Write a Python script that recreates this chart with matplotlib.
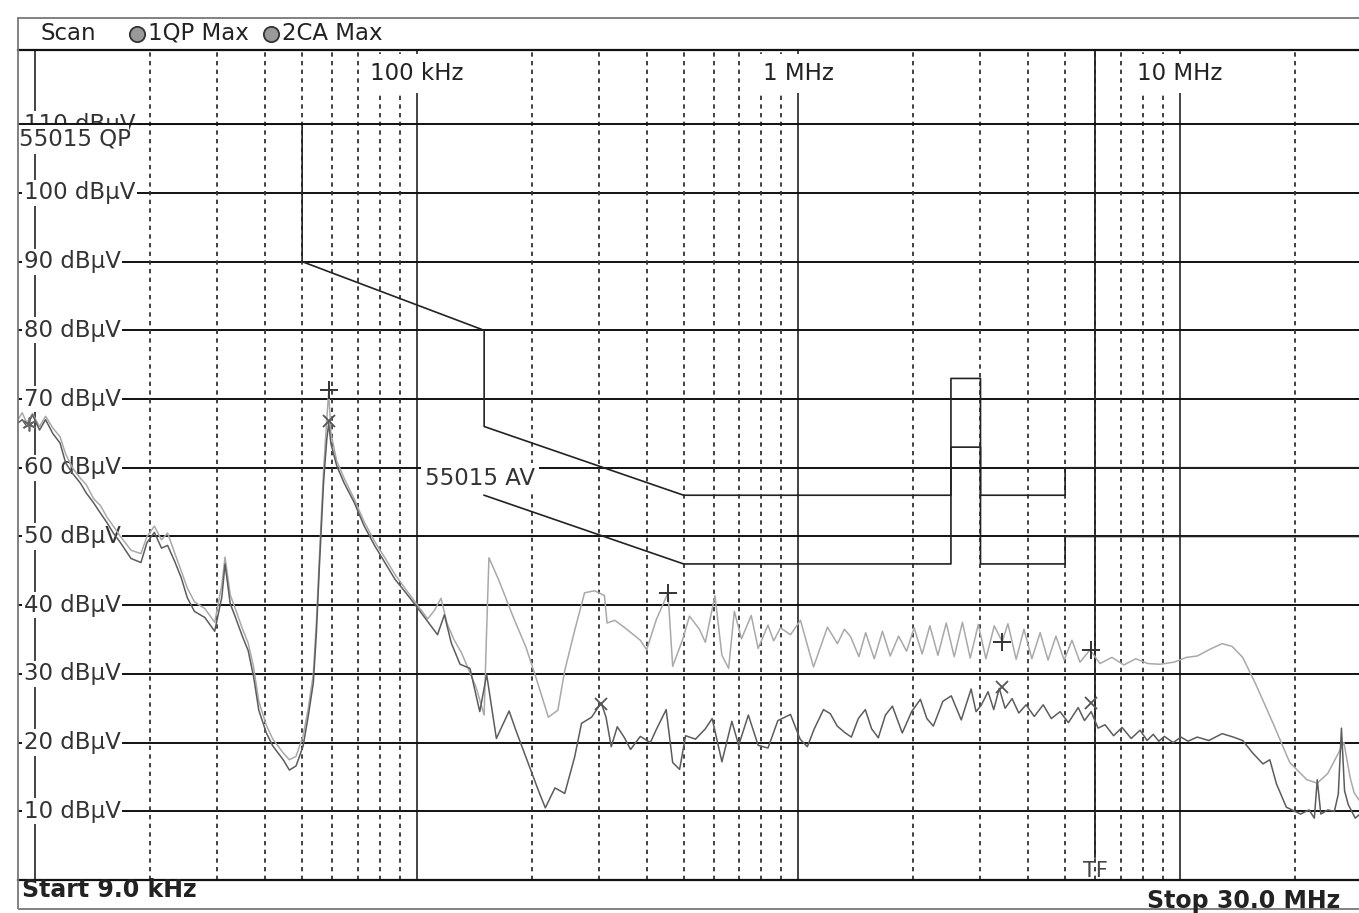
import numpy as np
import matplotlib.pyplot as plt
import matplotlib.transforms as mtransforms
from matplotlib.lines import Line2D
from matplotlib.patches import Rectangle
from matplotlib.ticker import NullLocator

# ---- trace 1: QP max (light) -- frequency in kHz, level in dBuV
qp_freq = [9.0, 9.23, 9.5, 9.82, 10.25, 10.63, 11.1, 11.6, 12.0, 12.5, 13.1, 13.6, 14.2, 14.8,
           15.4, 16.0, 16.7, 17.8, 18.9, 19.6, 20.5, 21.4, 22.2, 23.2, 24.1, 25.0, 26.1, 27.8,
           29.5, 30.8, 31.4, 32.4, 33.4, 34.9, 36.1, 37.3, 38.5, 40.3, 41.9, 44.6, 46.3, 48.2,
           50.3, 51.9, 53.5, 54.5, 55.5, 56.9, 58.0, 58.7, 59.5, 61.6, 64.4, 68.4, 72.6, 77.4,
           82.2, 87.5, 92.9, 98.8, 106.7, 111, 115.6, 120, 125, 131, 143, 150, 152, 154.4,
           164, 179, 193, 205, 221, 234, 244, 259, 275, 292, 310, 315, 330, 349, 385, 400,
           424, 455, 468, 497, 518, 550, 570, 604, 630, 656, 679, 709, 752, 784, 832, 861,
           897, 953, 1012, 1095, 1191, 1265, 1320, 1370, 1440, 1500, 1580, 1660, 1740, 1830,
           1920, 2010, 2110, 2210, 2320, 2440, 2560, 2690, 2820, 2960, 3100, 3260, 3420, 3540,
           3720, 3900, 4090, 4300, 4510, 4730, 4970, 5210, 5470, 5810, 6170, 6630, 7130, 7660,
           8240, 8860, 9640, 10400, 11100, 12000, 12900, 13700, 14600, 15800, 17600, 19400,
           21500, 22900, 24400, 26900, 27900, 28600, 30000]
qp_level = [67.0, 68.0, 66.5, 67.9, 66.0, 67.5, 65.8, 64.5, 62.0, 60.0, 58.5, 57.5, 55.5, 54.5,
            52.8, 51.5, 50.0, 48.0, 47.5, 50.0, 51.5, 49.5, 50.5, 47.5, 45.0, 42.5, 40.5, 39.5,
            37.5, 43.0, 47.0, 41.5, 39.5, 36.5, 34.5, 31.0, 26.0, 22.5, 20.5, 18.5, 17.5, 18.0,
            21.0, 25.0, 30.0, 37.5, 47.0, 59.5, 67.0, 71.0, 65.0, 61.0, 58.5, 55.5, 52.2, 49.3,
            47.0, 44.5, 42.5, 40.5, 38.0, 39.2, 41.0, 37.3, 35.0, 33.0, 28.0, 24.0, 35.0, 46.9,
            43.6, 38.2, 33.9, 29.5, 23.7, 24.7, 30.5, 36.3, 41.8, 42.1, 41.4, 37.4, 37.8, 36.8, 34.9, 33.5,
            37.9, 41.8, 31.1, 35.0, 38.4, 36.5, 34.6, 41.4, 32.7, 30.8, 39.1, 35.1, 38.5, 33.7, 37.1, 34.8,
            36.7, 35.7, 37.8, 31.0, 36.8, 34.4, 36.5, 35.4, 32.5, 36.0, 32.2, 36.2, 32.6, 35.5,
            33.3, 36.7, 32.9, 37.0, 32.7, 37.4, 32.5, 37.5, 32.3, 37.2, 32.2, 37.0, 34.7, 37.3,
            32.1, 36.5, 32.2, 36.0, 32.0, 35.5, 32.0, 34.9, 31.7, 33.5, 31.5, 32.4, 31.3, 32.2,
            31.5, 31.4, 31.7, 32.4, 32.6, 33.6, 34.4, 34.0, 32.4, 28.5, 22.6, 17.1,
            14.6, 14.1, 15.5, 20.0, 15.0, 12.7, 11.0]

# ---- trace 2: CISPR average max (dark)
ca_freq = [9.0, 9.23, 9.5, 9.82, 10.25, 10.63, 11.1, 11.6, 12.0, 12.5, 13.1, 13.6, 14.2, 14.8,
           15.4, 16.0, 16.7, 17.8, 18.9, 19.6, 20.5, 21.4, 22.2, 23.2, 24.1, 25.0, 26.1, 27.8,
           29.5, 30.8, 31.4, 32.4, 33.4, 34.9, 36.1, 37.3, 38.5, 40.3, 41.9, 44.6, 46.3, 48.2,
           50.3, 51.9, 53.5, 54.5, 55.5, 56.9, 58.0, 58.7, 59.5, 61.6, 64.4, 68.4, 72.6, 77.4,
           82.2, 87.5, 92.9, 98.8, 106.7, 113.2, 118, 123, 129.7, 137.7, 146.1, 152.3, 161.5,
           174.4, 181.9, 193.2, 208.2, 217, 230, 244, 259, 270, 287, 304, 313, 323, 335, 349,
           363, 385, 409, 424, 450, 468, 488, 506, 537, 570, 594, 630, 669, 697, 739, 784, 832,
           883, 953, 1010, 1055, 1100, 1163, 1212, 1264, 1320, 1376, 1435, 1497, 1555, 1619,
           1690, 1763, 1871, 1980, 2087, 2170, 2257, 2390, 2515, 2671, 2835, 2920, 3010, 3140,
           3250, 3360, 3480, 3630, 3780, 3950, 4150, 4380, 4600, 4850, 5100, 5410, 5620, 5850,
           6100, 6360, 6700, 7050, 7450, 7860, 8200, 8510, 8800, 9100, 9600, 10060, 10500,
           11100, 11900, 12900, 13800, 14600, 15500, 16500, 17200, 17900, 19000, 20700, 21800,
           22500, 22900, 23400, 24400, 25400, 26000, 26500, 27000, 27600, 28800, 29500, 30000]
ca_level = [66.5, 67.0, 66.0, 67.7, 65.5, 67.0, 65.0, 63.6, 60.7, 59.2, 57.8, 56.3, 54.9, 53.4,
            52.0, 50.5, 49.1, 46.8, 46.2, 49.1, 50.6, 48.3, 48.7, 46.3, 44.0, 41.1, 39.1, 38.2,
            36.2, 41.2, 46.0, 40.2, 38.3, 35.4, 33.4, 29.6, 24.7, 21.4, 19.5, 17.5, 16.0, 16.6,
            19.5, 23.9, 28.7, 36.0, 45.7, 57.8, 64.0, 66.5, 63.5, 60.3, 57.8, 55.0, 51.6, 48.7,
            46.3, 43.8, 42.0, 40.1, 37.6, 35.7, 38.6, 34.5, 31.4, 30.8, 24.5, 29.9, 20.6,
            24.6, 21.7, 17.8, 13.0, 10.5, 13.4, 12.6, 17.9, 22.8, 23.7, 25.8, 23.7, 19.4, 22.3, 20.8,
            19.0, 20.9, 20.0, 21.9, 24.8, 17.1, 16.1, 21.0, 20.5, 22.0, 23.5, 17.2, 23.1, 19.6, 24.0, 19.6, 19.2,
            23.2, 24.1, 20.5, 19.4, 22.0, 24.8, 24.2, 22.4, 21.5, 20.8, 23.5, 24.8, 22.0, 20.7,
            24.0, 25.3, 21.4, 24.5, 26.3, 23.5, 22.4, 26.0, 26.8, 23.3, 27.8, 24.5, 25.4, 27.4,
            24.8, 27.9, 25.0, 26.4, 24.3, 25.5, 23.8, 25.5, 23.5, 24.5, 22.9, 25.1, 23.2, 24.5,
            22.1, 22.6, 21.0, 22.2, 20.6, 21.8, 20.3, 21.2, 20.2, 20.9, 20.0, 20.8, 20.2,
            20.8, 20.3, 21.3, 20.8, 20.3, 18.5, 16.9, 17.5, 14.0, 10.6, 9.6, 10.2,
            9.0, 14.6, 9.6, 10.2, 10.0, 12.5, 22.1, 13.0, 11.0, 9.0, 9.5, 10.0]

# ---- EN 55015 limit lines (Hz, dBuV)
qp_lim_f = [9e3, 50e3, 50e3, 150e3, 150e3, 500e3, 2.51e6, 2.51e6, 3e6, 3e6, 5e6, 5e6, 30e6]
qp_lim_db = [110, 110, 90, 80, 66, 56, 56, 73, 73, 56, 56, 60, 60]
av_lim_f = [150e3, 500e3, 2.51e6, 2.51e6, 3e6, 3e6, 5e6, 5e6, 30e6]
av_lim_db = [56, 46, 46, 63, 63, 46, 46, 50, 50]

# ---- peak markers (kHz, dBuV)
plus_f = [58.7, 455, 3420, 5850]
plus_db = [71.3, 41.8, 34.7, 33.5]
cross_f = [58.7, 304, 3420, 5850]
cross_db = [66.8, 25.6, 28.1, 25.7]

grid_db = [10, 20, 30, 40, 50, 60, 70, 80, 90, 100, 110]
decades = [1e4, 1e5, 1e6, 1e7]
decade_labels = {1e5: '100 kHz', 1e6: '1 MHz', 1e7: '10 MHz'}

W, H = 1359, 913


def fx(px):
    return px / W


def fy(py):
    return 1 - py / H


fig = plt.figure(figsize=(W / 100, H / 100), dpi=100)
fig.patch.set_facecolor('white')
ax = fig.add_axes([fx(18), fy(880), 1344 / W, (880 - 50) / H])
ax.set_xscale('log')
ax.set_xlim(9e3, 30e6)
ax.set_ylim(0, 120.8)
ax.set_xticks([])
ax.set_yticks([])
ax.xaxis.set_minor_locator(NullLocator())
for side in ['left', 'right']:
    ax.spines[side].set_visible(False)
for side in ['top', 'bottom']:
    ax.spines[side].set_color('#111')
    ax.spines[side].set_linewidth(1.6)

# grid
for db in grid_db:
    ax.axhline(db, color='#111', lw=1.4, zorder=5 if db == 110 else 1)
for f in decades:
    ax.axvline(f, color='#111', lw=1.1, zorder=1)
for dec in decades:
    for m in range(2, 10):
        f = dec * m
        if 9e3 < f < 30e6:
            ax.axvline(f, color='#333', lw=1.3, ls=(0, (2.4, 2.4)), zorder=1)

# level labels
trans = mtransforms.blended_transform_factory(fig.transFigure, ax.transData)
for db in grid_db:
    ax.text(fx(24), db, f'{db} dBµV', transform=trans, ha='left', va='center',
            fontsize=16.5, color='#333', zorder=3,
            bbox=dict(fc='white', ec='none', pad=1.2))

for f, lab in decade_labels.items():
    ax.text(f, 117.4, lab, ha='center', va='center', fontsize=16.5, color='#222',
            zorder=3, bbox=dict(fc='white', ec='none', pad=6))

# limit lines
ax.plot(qp_lim_f, qp_lim_db, color='#222', lw=1.2, zorder=2)
ax.plot(av_lim_f, av_lim_db, color='#222', lw=1.2, zorder=2)
# the QP limit tag sits in a white box just under the 110 dBuV line
ax.add_patch(Rectangle((9e3, 105.6), 17.6e3 - 9e3, 110 - 105.6, fc='white', ec='none',
                       zorder=3.5))
ax.text(9.05e3, 107.9, '55015 QP', ha='left', va='center', fontsize=16.5, color='#333',
        zorder=4)
ax.text(105e3, 58.4, '55015 AV', ha='left', va='center', fontsize=16.5, color='#333',
        zorder=3, bbox=dict(fc='white', ec='none', pad=3))

# transducer line
ax.plot([6e6, 6e6], [3.4, 120.8], color='#222', lw=1.3, zorder=2)
ax.text(6e6, 1.3, 'TF', ha='center', va='center', fontsize=15, color='#444', zorder=3)

# traces
ax.plot(np.array(qp_freq) * 1e3, qp_level, color='#a9a9a9', lw=1.1, zorder=6)
ax.plot(np.array(ca_freq) * 1e3, ca_level, color='#5c5c5c', lw=1.1, zorder=7)
ax.plot(np.array(plus_f) * 1e3, plus_db, ls='none', marker='+', ms=13, mew=1.4,
        color='#333', zorder=8)
ax.plot(np.array(cross_f) * 1e3, cross_db, ls='none', marker='x', ms=9, mew=1.3,
        color='#555', zorder=8)
ax.plot([9.6e3], [66.3], ls='none', marker=(6, 2, 0), ms=10, mew=1.2, color='#666', zorder=8)

# instrument frame, header and footer
fig.add_artist(Rectangle((fx(18), fy(909)), (1420 - 18) / W, (909 - 18) / H,
                         transform=fig.transFigure, fill=False, ec='#777', lw=1.3))
fig.text(fx(40), fy(33), 'Scan', ha='left', va='center', fontsize=16.5, color='#222')
for cx in [137, 271]:
    fig.add_artist(Line2D([fx(cx)], [fy(34)], transform=fig.transFigure, marker='o',
                          ms=11, mfc='#999', mec='#333', mew=1.3, ls='none'))
fig.text(fx(148), fy(33), '1QP Max', ha='left', va='center', fontsize=16.5, color='#222')
fig.text(fx(282), fy(33), '2CA Max', ha='left', va='center', fontsize=16.5, color='#222')
fig.text(fx(22), fy(890), 'Start 9.0 kHz', ha='left', va='center', fontsize=17,
         fontweight='bold', color='#222')
fig.text(fx(1340), fy(901), 'Stop 30.0 MHz', ha='right', va='center', fontsize=17,
         fontweight='bold', color='#222')

fig.savefig('out.png', dpi=100, facecolor='white')
